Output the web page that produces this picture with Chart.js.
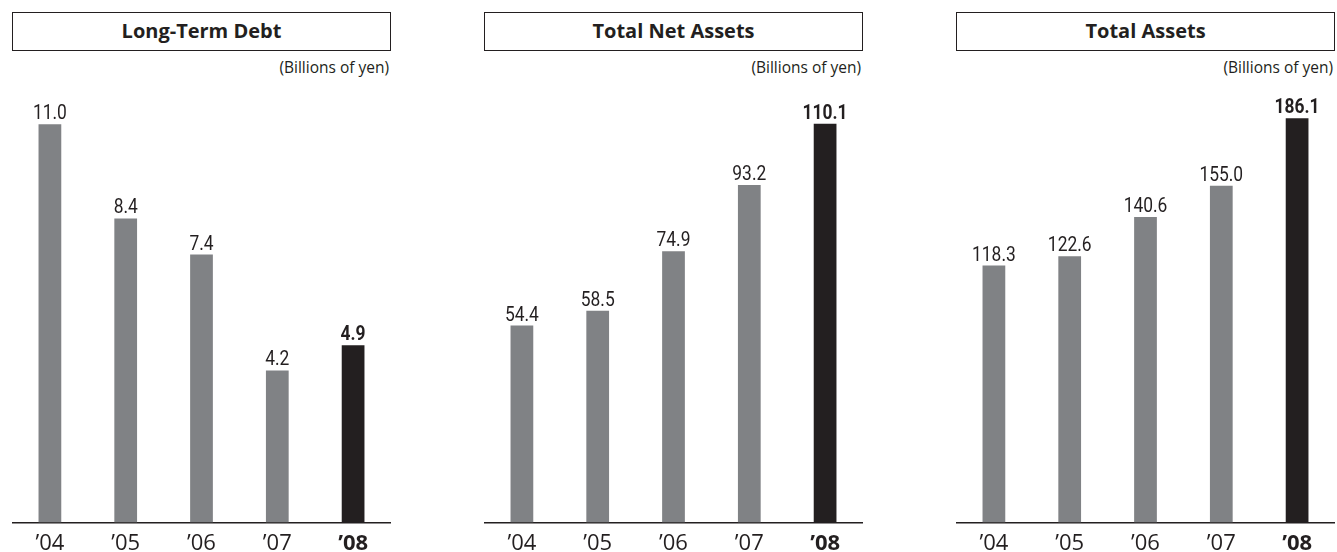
<!DOCTYPE html>
<html>
<head>
<meta charset="utf-8">
<script src="https://cdn.jsdelivr.net/npm/chart.js@4/dist/chart.umd.min.js"></script>
<style>
  html, body { margin: 0; padding: 0; background: #fff; }
  body { width: 1337px; height: 552px; position: relative; overflow: hidden; font-family: "Open Sans", sans-serif; color: #231f20; }
  .panel { position: absolute; top: 0; width: 379px; height: 552px; }
  .panel canvas { position: absolute; left: 0; top: 0; }
  .title { position: absolute; left: 0; top: 12px; width: 379px; height: 39px; box-sizing: border-box;
           border: 1.5px solid #231f20; text-align: center; line-height: 36px; font-weight: 700; font-size: 20px; }
  .unit { position: absolute; right: 2px; top: 56px; font-size: 15.5px; }
</style>
</head>
<body>

<div class="panel" style="left:12px"><div class="title">Long-Term Debt</div><div class="unit">(Billions of yen)</div><canvas id="chart0" width="379" height="565"></canvas></div>
<div class="panel" style="left:484px"><div class="title">Total Net Assets</div><div class="unit">(Billions of yen)</div><canvas id="chart1" width="379" height="565"></canvas></div>
<div class="panel" style="left:956px"><div class="title">Total Assets</div><div class="unit">(Billions of yen)</div><canvas id="chart2" width="379" height="565"></canvas></div>

<script>
// fiscal years, billions of yen
const years = ['\u201904', '\u201905', '\u201906', '\u201907', '\u201908'];
const longTermDebt = [11.0, 8.4, 7.4, 4.2, 4.9];
const totalNetAssets = [54.4, 58.5, 74.9, 93.2, 110.1];
const totalAssets = [118.3, 122.6, 140.6, 155.0, 186.1];
const axisMax = [12, 120, 200];

const grey = '#808285';
const dark = '#231f20';
const valueFont = '"Roboto", sans-serif';
const tickFont = '"Open Sans", sans-serif';

// write the value above each bar (slightly condensed), latest year in bold
const valueLabels = {
    id: 'valueLabels',
    afterDatasetsDraw(chart) {
        let ctx = chart.ctx;
        let meta = chart.getDatasetMeta(0);
        let values = chart.data.datasets[0].data;
        meta.data.forEach((bar, i) => {
            let last = i === values.length - 1;
            ctx.save();
            ctx.fillStyle = dark;
            ctx.textAlign = 'center';
            ctx.textBaseline = 'alphabetic';
            ctx.font = (last ? 'bold ' : '') + '20px ' + valueFont;
            ctx.translate(bar.x, bar.y - 5);
            ctx.scale(0.87, 1);
            ctx.fillText(values[i].toFixed(1), 0, 0);
            ctx.restore();
        });
    }
};

function makeChart(id, values, max){
    let ctx = document.getElementById(id).getContext('2d');
    return new Chart(ctx, {
        type: 'bar',
        data: {
            labels: years,
            datasets: [{
                data: values,
                backgroundColor: values.map((v, i) => i === values.length - 1 ? dark : grey),
                borderWidth: 0,
                barPercentage: 0.3,
                categoryPercentage: 1
            }]
        },
        options: {
            responsive: false,
            animation: false,
            layout: { padding: { top: 88, bottom: 0, left: 0, right: 0 } },
            plugins: { legend: { display: false }, tooltip: { enabled: false } },
            scales: {
                x: {
                    grid: { display: false, drawTicks: false },
                    border: { display: true, color: dark, width: 1.5 },
                    ticks: {
                        padding: 8,
                        color: dark,
                        font: (c) => ({ family: tickFont, size: 22, weight: c.index === years.length - 1 ? 'bold' : 'normal' })
                    }
                },
                y: { display: false, min: 0, max: max }
            }
        },
        plugins: [valueLabels]
    });
}

makeChart('chart0', longTermDebt, axisMax[0]);
makeChart('chart1', totalNetAssets, axisMax[1]);
makeChart('chart2', totalAssets, axisMax[2]);
</script>
</body>
</html>
